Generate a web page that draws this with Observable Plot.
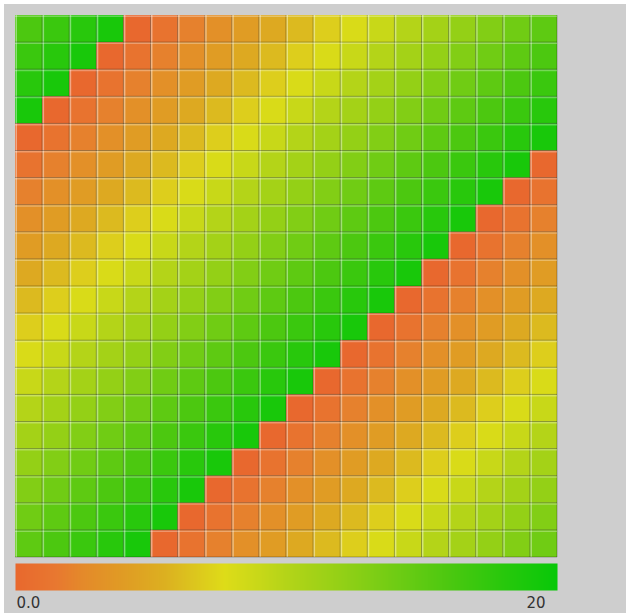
<!DOCTYPE html>
<html>
<head>
<meta charset="utf-8">
<script src="https://cdn.jsdelivr.net/npm/d3@7"></script>
<script src="https://cdn.jsdelivr.net/npm/@observablehq/plot@0.6"></script>
<style>
  html, body { margin: 0; padding: 0; background: #ffffff; width: 626px; height: 615px; overflow: hidden; }
  #frame { position: absolute; left: 4px; top: 4px; width: 622px; height: 609px; background: #cecece; }
  #grid { position: absolute; left: 0; top: 0; }
  #legend { position: absolute; left: 0; top: 553px; }
  svg { display: block; overflow: visible; }
</style>
</head>
<body>
<div id="frame"><div id="grid"></div><div id="legend"></div></div>
<script>
// 20 x 20 matrix of cell values (row 0 at top)
const values = [
  [16,17,18,19,0,1,2,3,4,5,6,7,8,9,10,11,12,13,14,15],
  [17,18,19,0,1,2,3,4,5,6,7,8,9,10,11,12,13,14,15,16],
  [18,19,0,1,2,3,4,5,6,7,8,9,10,11,12,13,14,15,16,17],
  [19,0,1,2,3,4,5,6,7,8,9,10,11,12,13,14,15,16,17,18],
  [0,1,2,3,4,5,6,7,8,9,10,11,12,13,14,15,16,17,18,19],
  [1,2,3,4,5,6,7,8,9,10,11,12,13,14,15,16,17,18,19,0],
  [2,3,4,5,6,7,8,9,10,11,12,13,14,15,16,17,18,19,0,1],
  [3,4,5,6,7,8,9,10,11,12,13,14,15,16,17,18,19,0,1,2],
  [4,5,6,7,8,9,10,11,12,13,14,15,16,17,18,19,0,1,2,3],
  [5,6,7,8,9,10,11,12,13,14,15,16,17,18,19,0,1,2,3,4],
  [6,7,8,9,10,11,12,13,14,15,16,17,18,19,0,1,2,3,4,5],
  [7,8,9,10,11,12,13,14,15,16,17,18,19,0,1,2,3,4,5,6],
  [8,9,10,11,12,13,14,15,16,17,18,19,0,1,2,3,4,5,6,7],
  [9,10,11,12,13,14,15,16,17,18,19,0,1,2,3,4,5,6,7,8],
  [10,11,12,13,14,15,16,17,18,19,0,1,2,3,4,5,6,7,8,9],
  [11,12,13,14,15,16,17,18,19,0,1,2,3,4,5,6,7,8,9,10],
  [12,13,14,15,16,17,18,19,0,1,2,3,4,5,6,7,8,9,10,11],
  [13,14,15,16,17,18,19,0,1,2,3,4,5,6,7,8,9,10,11,12],
  [14,15,16,17,18,19,0,1,2,3,4,5,6,7,8,9,10,11,12,13],
  [15,16,17,18,19,0,1,2,3,4,5,6,7,8,9,10,11,12,13,14]
];
const nRows = 20;
const nCols = 20;

// Color scale: stops
const colorDomain = [0, 1.5, 2.5, 4, 5.5, 6.5, 7.7, 9, 10, 12, 14, 16, 18, 20];
const colorRange  = ["#e8682e","#e87830","#e48a2a","#e09c24","#dcb020","#dcc41e","#dedc18","#c8d818","#b4d418","#94d016","#70cc14","#4cc810","#28c80c","#08c808"];

// Legend labels
const legendMin = 0, legendMax = 20;
const legendMinLabel = "0.0";
const legendMaxLabel = "20";

const cells = [];
values.forEach((row, r) => row.forEach((v, c) => cells.push({row: r, col: c, value: v})));

const colorScale = {type: "linear", domain: colorDomain, range: colorRange, interpolate: "rgb", clamp: true};

const darkBounds = d3.range(1, nCols + 1);
const lightBounds = d3.range(0, nCols);

const grid = Plot.plot({
  width: 553, height: 553,
  marginLeft: 11, marginTop: 11, marginRight: 0, marginBottom: 0,
  style: {background: "transparent"},
  x: {domain: [0, nCols], axis: null},
  y: {domain: [0, nRows], reverse: true, axis: null},
  color: colorScale,
  marks: [
    Plot.rect(cells, {x1: "col", x2: d => d.col + 1, y1: "row", y2: d => d.row + 1, fill: "value"}),
    Plot.ruleX(darkBounds, {stroke: "#000", strokeOpacity: 0.28, dx: -0.5}),
    Plot.ruleX(lightBounds, {stroke: "#fff", strokeOpacity: 0.42, strokeWidth: 1.5, dx: 0.75}),
    Plot.ruleY(darkBounds, {stroke: "#000", strokeOpacity: 0.28, dy: -0.5}),
    Plot.ruleY(lightBounds, {stroke: "#fff", strokeOpacity: 0.3, strokeWidth: 1.5, dy: 0.75})
  ]
});
document.getElementById("grid").appendChild(grid);

const legend = Plot.plot({
  width: 553, height: 56,
  marginLeft: 11, marginTop: 6, marginRight: 0, marginBottom: 23,
  style: {background: "transparent", fontFamily: "DejaVu Sans", fontSize: "15px"},
  x: {domain: [legendMin, legendMax], axis: null},
  y: {domain: [0, 1], axis: null},
  color: colorScale,
  marks: [
    Plot.raster({x1: legendMin, x2: legendMax, y1: 0, y2: 1, width: 542, height: 1, fill: (x, y) => x, imageRendering: "auto"}),
    Plot.text([legendMinLabel], {x: legendMin, y: 0, text: d => d, textAnchor: "start", dy: 13, dx: 1, fill: "#333", fontSize: 15, fontFamily: "DejaVu Sans"}),
    Plot.text([legendMaxLabel], {x: legendMax, y: 0, text: d => d, textAnchor: "end", dy: 13, dx: -12, fill: "#333", fontSize: 15, fontFamily: "DejaVu Sans"})
  ]
});
document.getElementById("legend").appendChild(legend);
</script>
</body>
</html>
